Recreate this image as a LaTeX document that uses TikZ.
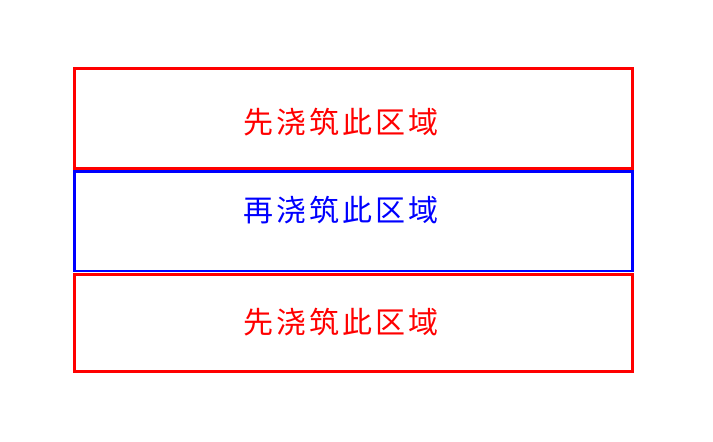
\documentclass[tikz,border=0pt]{standalone}
\usepackage{fontspec}
\newfontfamily\cjk[LetterSpace=10]{Noto Sans CJK SC}
\usetikzlibrary{positioning,calc}

\begin{document}
\begin{tikzpicture}[x=1pt, y=-1pt,
    zone/.style={rectangle, draw, line width=2.6pt, minimum width=558pt, inner sep=0pt},
    zonetext/.style={inner sep=0pt, font=\cjk\fontsize{30}{30}\selectfont}]
    \useasboundingbox (0,0) rectangle (713,442);

    \node[zone, draw=red, minimum height=100pt] (first1) at (353.6,118.5) {};
    \node[zone, draw=blue, minimum height=99.5pt] (second) at (353.3,221.2) {};
    \node[zone, draw=red, minimum height=96.6pt] (first2) at (353.6,323) {};

    \node[zonetext, text=red] (first1txt) at (340.5,121.7) {先浇筑此区域};
    \node[zonetext, text=blue] (secondtxt) at (340.5,210.5) {再浇筑此区域};
    \node[zonetext, text=red] (first2txt) at (340.5,322) {先浇筑此区域};
\end{tikzpicture}
\end{document}
